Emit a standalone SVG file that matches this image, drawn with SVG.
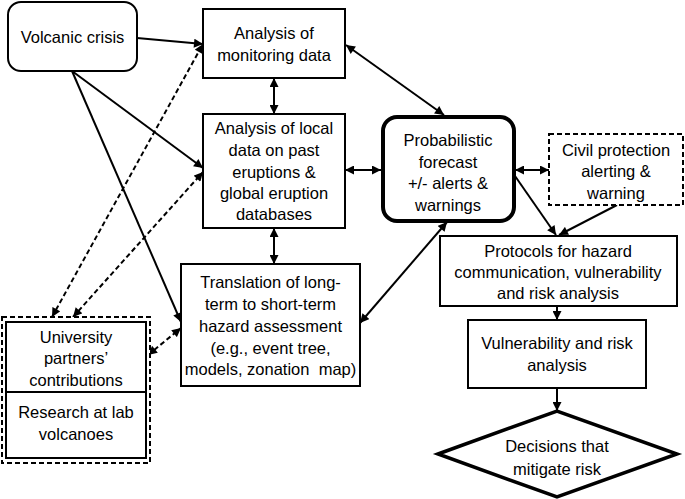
<svg xmlns="http://www.w3.org/2000/svg" width="685" height="499" viewBox="0 0 685 499">
<style>
.box{fill:#fff;stroke:#000;stroke-width:2}
.dbox{fill:#fff;stroke:#000;stroke-width:2;stroke-dasharray:5,3}
.thick{fill:#fff;stroke:#000;stroke-width:4}
.t{font-family:"Liberation Sans",Arial,sans-serif;font-size:16.5px;fill:#000;text-anchor:middle}
.c{stroke:#000;stroke-width:2;fill:none}
.d{stroke:#000;stroke-width:2;fill:none;stroke-dasharray:5,3}
</style>
<defs>
<marker id="ah" viewBox="0 0 10 10" refX="10" refY="5" markerWidth="10" markerHeight="9" markerUnits="userSpaceOnUse" orient="auto-start-reverse">
<path d="M0,0 L10,5 L0,10 z" fill="#000"/>
</marker>
</defs>
<rect width="685" height="499" fill="#fff"/>
<g id="connectors">
<line class="c" x1="137" y1="38" x2="203" y2="44" marker-end="url(#ah)"/>
<line class="c" x1="72" y1="71" x2="203" y2="168" marker-end="url(#ah)"/>
<line class="c" x1="72" y1="71" x2="181" y2="322" marker-end="url(#ah)"/>
<line class="d" x1="52" y1="317" x2="203" y2="44" marker-start="url(#ah)" marker-end="url(#ah)"/>
<line class="d" x1="73" y1="317" x2="203" y2="172" marker-start="url(#ah)" marker-end="url(#ah)"/>
<line class="d" x1="148" y1="355" x2="181" y2="328" marker-start="url(#ah)" marker-end="url(#ah)"/>
<line class="c" x1="274" y1="78" x2="274" y2="114" marker-start="url(#ah)" marker-end="url(#ah)"/>
<line class="c" x1="274" y1="228" x2="274" y2="264" marker-start="url(#ah)" marker-end="url(#ah)"/>
<line class="c" x1="346" y1="45" x2="444" y2="115" marker-start="url(#ah)" marker-end="url(#ah)"/>
<line class="c" x1="345" y1="170" x2="381" y2="170" marker-start="url(#ah)" marker-end="url(#ah)"/>
<line class="c" x1="360" y1="323" x2="447" y2="222" marker-start="url(#ah)" marker-end="url(#ah)"/>
<line class="c" x1="515" y1="170" x2="549" y2="170" marker-start="url(#ah)" marker-end="url(#ah)"/>
<line class="c" x1="515" y1="176" x2="556" y2="235" marker-end="url(#ah)"/>
<line class="c" x1="617" y1="205" x2="559" y2="235" marker-end="url(#ah)"/>
<line class="c" x1="557" y1="306" x2="557" y2="320" marker-end="url(#ah)"/>
<line class="c" x1="557" y1="388" x2="557" y2="411" marker-end="url(#ah)"/>
</g>
<g id="volcanic-crisis">
<rect class="box" x="8" y="2" width="129" height="69" rx="13"/>
<text class="t" x="72.5" y="43">Volcanic crisis</text>
</g>
<g id="monitoring">
<rect class="box" x="203" y="9" width="142" height="69"/>
<text class="t" x="274" y="39">Analysis of</text>
<text class="t" x="274" y="61">monitoring data</text>
</g>
<g id="local-data">
<rect class="box" x="203" y="114" width="142" height="114"/>
<text class="t" x="274" y="134">Analysis of local</text>
<text class="t" x="274" y="156">data on past</text>
<text class="t" x="274" y="178">eruptions &amp;</text>
<text class="t" x="274" y="199">global eruption</text>
<text class="t" x="274" y="220">databases</text>
</g>
<g id="translation">
<rect class="box" x="181" y="264" width="179" height="122"/>
<text class="t" x="270.5" y="288">Translation of long-</text>
<text class="t" x="270.5" y="310">term to short-term</text>
<text class="t" x="270.5" y="332">hazard assessment</text>
<text class="t" x="270.5" y="354">(e.g., event tree,</text>
<text class="t" x="270.5" y="375" xml:space="preserve">models, zonation  map)</text>
</g>
<g id="university">
<rect class="dbox" x="2" y="317" width="148" height="146"/>
<rect class="box" x="6" y="322" width="140" height="136"/>
<line class="c" x1="6" y1="392" x2="146" y2="392"/>
<text class="t" x="76" y="343">University</text>
<text class="t" x="76" y="364">partners’</text>
<text class="t" x="76" y="386">contributions</text>
<text class="t" x="76" y="418">Research at lab</text>
<text class="t" x="76" y="440">volcanoes</text>
</g>
<g id="forecast">
<rect class="thick" x="383" y="117" width="131" height="104" rx="14"/>
<text class="t" x="448" y="146">Probabilistic</text>
<text class="t" x="448" y="168">forecast</text>
<text class="t" x="448" y="189">+/- alerts &amp;</text>
<text class="t" x="448" y="211">warnings</text>
</g>
<g id="civil-protection">
<rect class="dbox" x="549" y="134" width="134" height="71"/>
<text class="t" x="616" y="156">Civil protection</text>
<text class="t" x="616" y="177">alerting &amp;</text>
<text class="t" x="616" y="199">warning</text>
</g>
<g id="protocols">
<rect class="box" x="440" y="236" width="237" height="70"/>
<text class="t" x="558" y="257">Protocols for hazard</text>
<text class="t" x="558" y="278">communication, vulnerability</text>
<text class="t" x="558" y="299">and risk analysis</text>
</g>
<g id="vulnerability">
<rect class="box" x="468" y="320" width="178" height="68"/>
<text class="t" x="557" y="349">Vulnerability and risk</text>
<text class="t" x="557" y="371">analysis</text>
</g>
<g id="decisions">
<polygon points="438,454 557,411 677,454 557,497" fill="#fff" stroke="#000" stroke-width="3.5"/>
<text class="t" x="557" y="452">Decisions that</text>
<text class="t" x="557" y="475">mitigate risk</text>
</g>
</svg>
